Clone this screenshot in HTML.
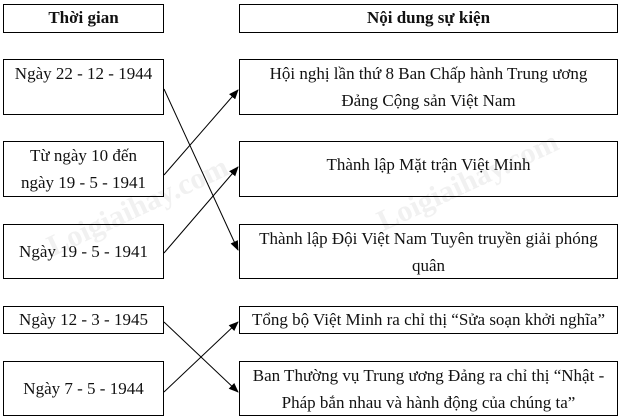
<!DOCTYPE html>
<html><head><meta charset="utf-8"><style>
body{margin:0;width:620px;height:420px;background:#fff;position:relative;overflow:hidden;font-family:"Liberation Serif",serif;font-size:17px;color:#111}
.b{position:absolute;border:1px solid #000;box-sizing:border-box;text-align:center;line-height:27px;white-space:nowrap}
.L{left:3px;width:161px}.R{left:239px;width:379px}
.h{font-weight:bold;line-height:26px}
svg{position:absolute;left:0;top:0}
.wm{position:absolute;font:bold 30px "Liberation Serif",serif;color:#f1f1f1;transform:rotate(-25deg)}
</style></head><body>
<div class="wm" style="left:40px;top:190px">Loigiaihay.com</div>
<div class="wm" style="left:370px;top:165px">Loigiaihay.com</div>
<div class="b L h" style="top:4px;height:29px">Thời gian</div>
<div class="b R h" style="top:4px;height:29px">Nội dung sự kiện</div>
<div class="b L" style="top:59px;height:56px">Ngày 22 - 12 - 1944</div>
<div class="b L" style="top:141px;height:56px">Từ ngày 10 đến<br>ngày 19 - 5 - 1941</div>
<div class="b L" style="top:224px;height:55px;line-height:53px">Ngày 19 - 5 - 1941</div>
<div class="b L" style="top:306px;height:28px;line-height:25px">Ngày 12 - 3 - 1945</div>
<div class="b L" style="top:361px;height:55px;line-height:53px">Ngày 7 - 5 - 1944</div>
<div class="b R" style="top:59px;height:56px">Hội nghị lần thứ 8 Ban Chấp hành Trung ương<br>Đảng Cộng sản Việt Nam</div>
<div class="b R" style="top:141px;height:56px;line-height:46px">Thành lập Mặt trận Việt Minh</div>
<div class="b R" style="top:224px;height:55px">Thành lập Đội Việt Nam Tuyên truyền giải phóng<br>quân</div>
<div class="b R" style="top:306px;height:28px;line-height:25px">Tổng bộ Việt Minh ra chỉ thị “Sửa soạn khởi nghĩa”</div>
<div class="b R" style="top:361px;height:55px">Ban Thường vụ Trung ương Đảng ra chỉ thị “Nhật -<br>Pháp bắn nhau và hành động của chúng ta”</div>
<svg width="620" height="420"><defs><marker id="a" markerWidth="10" markerHeight="8" refX="9" refY="4" orient="auto" markerUnits="userSpaceOnUse"><path d="M0,0L10,4L0,8z" fill="#000"/></marker></defs>
<g stroke="#000" stroke-width="1" marker-end="url(#a)">
<line x1="164" y1="89" x2="238" y2="250"/>
<line x1="164" y1="175" x2="238" y2="90"/>
<line x1="164" y1="253" x2="238" y2="167"/>
<line x1="164" y1="322" x2="238" y2="392"/>
<line x1="164" y1="392" x2="238" y2="322"/>
</g></svg>
</body></html>
